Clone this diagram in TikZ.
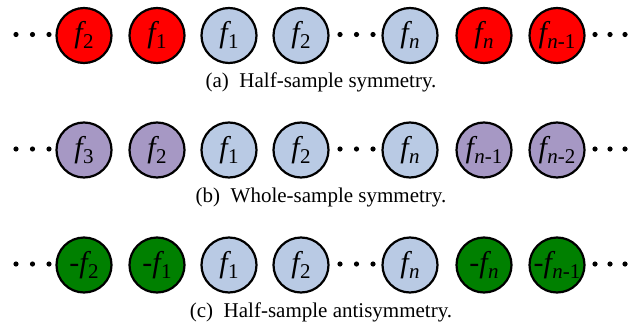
\documentclass[tikz,border=0pt]{standalone}
\usepackage{fontspec}
\setmainfont{Liberation Serif}[ItalicFont={Liberation Serif Italic}]
\definecolor{cred}{RGB}{255,0,0}
\definecolor{cblue}{RGB}{185,202,228}
\definecolor{cpurple}{RGB}{166,152,196}
\definecolor{cgreen}{RGB}{0,128,0}
\newcommand{\ff}[1]{{\itshape f}\kern0.5pt\raisebox{-0.2em}{\fontsize{21}{21}\selectfont #1}}
\newcommand{\nn}{{\itshape n}}
\tikzset{
  samp/.style={circle, draw=black, line width=2.2pt, minimum size=55pt, inner sep=0pt,
    font=\fontsize{30}{30}\selectfont},
  rsamp/.style={samp, fill=cred},
  bsamp/.style={samp, fill=cblue},
  psamp/.style={samp, fill=cpurple},
  gsamp/.style={samp, fill=cgreen},
  capt/.style={font=\fontsize{21}{23}\selectfont, anchor=center},
  dotmark/.style={fill=black}
}
\begin{document}
\begin{tikzpicture}[x=1pt,y=-1pt]
\useasboundingbox (0,0) rectangle (629,332);
% row (a)
\node[rsamp] (a1) at (84,35.5) {\ff{2}};
\node[rsamp] (a2) at (157,35.5) {\ff{1}};
\node[bsamp] (a3) at (229,35.5) {\ff{1}};
\node[bsamp] (a4) at (301,35.5) {\ff{2}};
\node[bsamp] (a5) at (410,35.5) {\ff{\nn}};
\node[rsamp] (a6) at (484,35.5) {\ff{\nn}};
\node[rsamp] (a7) at (557,35.5) {\ff{\nn-1}};
\node[capt] (ca) at (321,82) {(a)\enspace Half-sample symmetry.};
% row (b)
\node[psamp] (b1) at (84,150) {\ff{3}};
\node[psamp] (b2) at (157,150) {\ff{2}};
\node[bsamp] (b3) at (229,150) {\ff{1}};
\node[bsamp] (b4) at (301,150) {\ff{2}};
\node[bsamp] (b5) at (410,150) {\ff{\nn}};
\node[psamp] (b6) at (484,150) {\ff{\nn-1}};
\node[psamp] (b7) at (557,150) {\ff{\nn-2}};
\node[capt] (cb) at (321,197) {(b)\enspace Whole-sample symmetry.};
% row (c)
\node[gsamp] (c1) at (84,265) {-\ff{2}};
\node[gsamp] (c2) at (157,265) {-\ff{1}};
\node[bsamp] (c3) at (229,265) {\ff{1}};
\node[bsamp] (c4) at (301,265) {\ff{2}};
\node[bsamp] (c5) at (410,265) {\ff{\nn}};
\node[gsamp] (c6) at (484,265) {-\ff{\nn}};
\node[gsamp] (c7) at (557,265) {-\ff{\nn-1}};
\node[capt] (cc) at (321,312) {(c)\enspace Half-sample antisymmetry.};
% dots
\foreach \y in {34.5,149,264}{
  \foreach \x in {16,32.5,49,340,356.5,373,595,610,625}{
    \fill[dotmark] (\x,\y) circle (2.6);
  }
}
\end{tikzpicture}
\end{document}
